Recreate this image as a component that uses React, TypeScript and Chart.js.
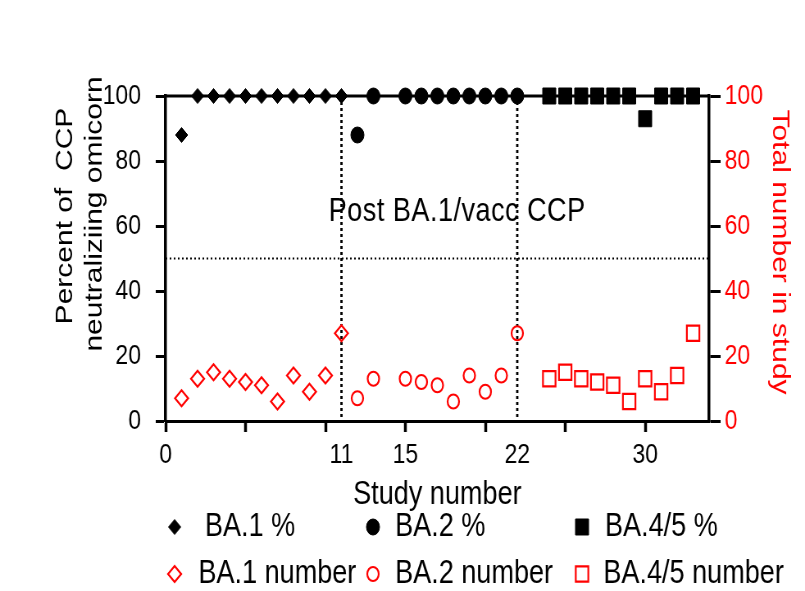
import React, { useEffect, useRef } from 'react';
import { Chart, registerables } from 'chart.js';
import { drawPoint } from 'chart.js/helpers';

Chart.register(...registerables);

// ---- data ----
const ba1Study = [1, 2, 3, 4, 5, 6, 7, 8, 9, 10, 11];
const ba1Percent = [88, 100, 100, 100, 100, 100, 100, 100, 100, 100, 100];
const ba1Number = [7, 13, 15, 13, 12, 11, 6, 14, 9, 14, 27];

const ba2Study = [12, 13, 15, 16, 17, 18, 19, 20, 21, 22];
const ba2Percent = [88, 100, 100, 100, 100, 100, 100, 100, 100, 100];
const ba2Number = [7, 13, 13, 12, 11, 6, 14, 9, 14, 27];

const ba45Study = [24, 25, 26, 27, 28, 29, 30, 31, 32, 33];
const ba45Percent = [100, 100, 100, 100, 100, 100, 93, 100, 100, 100];
const ba45Number = [13, 15, 13, 12, 11, 6, 13, 9, 14, 27];

const xTickValues = [0, 5, 10, 11, 15, 20, 22, 25, 30];
const xTickLabels = [0, 11, 15, 22, 30];
const dividerStudies = [11, 22];
const thresholdPercent = 50;
const yLabelStep = 20;

// ---- layout ----
const VIEW_W = 805;
const VIEW_H = 591;
const CANVAS_W = 982;
const SQUEEZE = VIEW_W / CANVAS_W;
const FONT = '"Liberation Sans", Arial, Helvetica, sans-serif';
const RED = '#ff0000';

const toPts = (xs: number[], ys: number[]) => xs.map((x, i) => ({ x, y: ys[i] }));

const guidesPlugin = {
  id: 'guides',
  beforeDatasetsDraw(chart: any) {
    const { ctx, scales } = chart;
    const x = scales.x;
    const y = scales.y;
    const left = x.left;
    const right = x.right;
    const top = y.getPixelForValue(100);
    const bottom = y.getPixelForValue(0);
    ctx.save();
    ctx.strokeStyle = '#000';
    ctx.lineWidth = 2;
    ctx.setLineDash([2, 3]);
    const yy = y.getPixelForValue(thresholdPercent);
    ctx.beginPath();
    ctx.moveTo(left, yy);
    ctx.lineTo(right, yy);
    ctx.stroke();
    ctx.lineWidth = 2.8;
    ctx.setLineDash([3, 3]);
    for (const v of dividerStudies) {
      const xx = x.getPixelForValue(v);
      ctx.beginPath();
      ctx.moveTo(xx, top);
      ctx.lineTo(xx, bottom);
      ctx.stroke();
    }
    ctx.setLineDash([]);
    ctx.lineWidth = 3;
    ctx.beginPath();
    ctx.moveTo(left, top);
    ctx.lineTo(right, top);
    ctx.stroke();

    ctx.fillStyle = '#000';
    ctx.font = `33px ${FONT}`;
    try { (ctx as any).letterSpacing = '0.6px'; } catch (e) { /* ignore */ }
    ctx.textAlign = 'left';
    ctx.textBaseline = 'middle';
    ctx.fillText('Post BA.1/vacc CCP', 401, 212);
    ctx.restore();
  },
};

const titlesPlugin = {
  id: 'titles',
  afterDraw(chart: any) {
    const { ctx } = chart;
    ctx.save();
    ctx.font = `30px ${FONT}`;
    ctx.textAlign = 'center';
    ctx.textBaseline = 'alphabetic';
    ctx.fillStyle = '#000';
    ctx.save();
    ctx.translate(88, 216);
    ctx.rotate(-Math.PI / 2);
    ctx.fillText('Percent of  CCP', 0, 0);
    ctx.restore();
    ctx.save();
    ctx.translate(124, 214);
    ctx.rotate(-Math.PI / 2);
    ctx.fillText('neutraliziing omicorn', 0, 0);
    ctx.restore();
    ctx.save();
    ctx.fillStyle = RED;
    ctx.translate(943, 252);
    ctx.rotate(Math.PI / 2);
    ctx.fillText('Total number in study', 0, 0);
    ctx.restore();
    ctx.restore();
  },
};

const legendLayout = [
  { ds: 0, row: 0, mx: 213, tx: 250 },
  { ds: 1, row: 0, mx: 455, tx: 482 },
  { ds: 2, row: 0, mx: 710, tx: 738 },
  { ds: 3, row: 1, mx: 213, tx: 242 },
  { ds: 4, row: 1, mx: 455, tx: 482 },
  { ds: 5, row: 1, mx: 710, tx: 736 },
];
const legendRowY = [527, 574];

const legendPlugin = {
  id: 'customLegend',
  afterDraw(chart: any) {
    const { ctx } = chart;
    ctx.save();
    ctx.font = `33px ${FONT}`;
    ctx.textAlign = 'left';
    ctx.textBaseline = 'middle';
    for (const item of legendLayout) {
      const ds = chart.data.datasets[item.ds];
      const y = legendRowY[item.row];
      ctx.save();
      ctx.fillStyle = ds.pointBackgroundColor;
      ctx.strokeStyle = ds.pointBorderColor;
      ctx.lineWidth = ds.pointBorderWidth;
      drawPoint(ctx, {
        pointStyle: ds.pointStyle,
        rotation: 0,
        radius: ds.pointRadius,
        borderWidth: ds.pointBorderWidth,
      } as any, item.mx, y);
      ctx.restore();
      ctx.fillStyle = '#000';
      ctx.fillText(ds.label, item.tx, y);
    }
    ctx.restore();
  },
};

export default function App() {
  const canvasRef = useRef<HTMLCanvasElement | null>(null);

  useEffect(() => {
    document.body.style.margin = '0';
    document.body.style.overflow = 'hidden';
    const canvas = canvasRef.current;
    if (!canvas) return;

    const filled = (label: string, xs: number[], ys: number[], style: string, r: number) => ({
      label,
      data: toPts(xs, ys),
      yAxisID: 'y',
      showLine: false,
      pointStyle: style,
      pointRadius: r,
      pointHoverRadius: r,
      pointBackgroundColor: '#000',
      pointBorderColor: '#000',
      pointBorderWidth: 1,
      clip: false,
    });
    const open = (label: string, xs: number[], ys: number[], style: string, r: number) => ({
      label,
      data: toPts(xs, ys),
      yAxisID: 'y1',
      showLine: false,
      pointStyle: style,
      pointRadius: r,
      pointHoverRadius: r,
      pointBackgroundColor: 'rgba(255,255,255,0)',
      pointBorderColor: RED,
      pointBorderWidth: 2.2,
      clip: false,
    });

    const chart = new Chart(canvas, {
      type: 'scatter',
      data: {
        datasets: [
          filled('BA.1 %', ba1Study, ba1Percent, 'rectRot', 7.5),
          filled('BA.2 %', ba2Study, ba2Percent, 'circle', 8),
          filled('BA.4/5 %', ba45Study, ba45Percent, 'rect', 11.3),
          open('BA.1 number', ba1Study, ba1Number, 'rectRot', 8),
          open('BA.2 number', ba2Study, ba2Number, 'circle', 7),
          open('BA.4/5 number', ba45Study, ba45Number, 'rect', 10.8),
        ] as any,
      },
      options: {
        animation: false,
        responsive: false,
        devicePixelRatio: 1,
        layout: { padding: { top: 96, left: 0, right: 0, bottom: 0 } },
        plugins: {
          legend: { display: false },
          tooltip: { enabled: false },
        },
        scales: {
          x: {
            type: 'linear',
            min: 0,
            max: 34,
            afterBuildTicks: (s: any) => {
              s.ticks = xTickValues.map((v) => ({ value: v }));
            },
            afterFit: (s: any) => {
              s.height = VIEW_H - 421;
            },
            ticks: {
              autoSkip: false,
              maxRotation: 0,
              padding: 6,
              color: '#000',
              font: { family: FONT, size: 28 },
              callback: (v: any) => (xTickLabels.includes(Number(v)) ? String(v) : ''),
            },
            grid: {
              drawOnChartArea: false,
              drawTicks: true,
              tickLength: 11,
              tickWidth: 3.5,
              tickColor: (c: any) =>
                c.tick && dividerStudies.includes(c.tick.value) ? 'rgba(0,0,0,0)' : '#000',
            },
            border: { display: true, color: '#000', width: 3 },
            title: {
              display: true,
              text: 'Study number',
              color: '#000',
              font: { family: FONT, size: 33, lineHeight: 1.2 },
              padding: { top: 0, bottom: 76 },
            },
          },
          y: {
            type: 'linear',
            position: 'left',
            min: 0,
            max: 100,
            afterFit: (s: any) => {
              s.width = 202;
            },
            ticks: {
              stepSize: 10,
              padding: 18,
              color: '#000',
              font: { family: FONT, size: 28 },
              callback: (v: any) => (Number(v) % yLabelStep === 0 ? String(v) : ''),
            },
            grid: {
              drawOnChartArea: false,
              drawTicks: true,
              tickLength: 12,
              tickWidth: 3,
              tickColor: '#000',
            },
            border: { display: true, color: '#000', width: 3.5 },
          },
          y1: {
            type: 'linear',
            position: 'right',
            min: 0,
            max: 100,
            afterFit: (s: any) => {
              s.width = CANVAS_W - 865;
            },
            ticks: {
              stepSize: 10,
              padding: 5,
              color: RED,
              font: { family: FONT, size: 28 },
              callback: (v: any) => (Number(v) % yLabelStep === 0 ? String(v) : ''),
            },
            grid: {
              drawOnChartArea: false,
              drawTicks: true,
              tickLength: 14,
              tickWidth: 3,
              tickColor: '#000',
            },
            border: { display: true, color: '#000', width: 3.5 },
          },
        },
      } as any,
      plugins: [guidesPlugin, titlesPlugin, legendPlugin],
    });

    return () => {
      chart.destroy();
    };
  }, []);

  return (
    <div style={{ width: VIEW_W, height: VIEW_H, overflow: 'hidden', position: 'relative', background: '#fff' }}>
      <div
        style={{
          width: CANVAS_W,
          height: VIEW_H,
          transform: `scaleX(${SQUEEZE})`,
          transformOrigin: '0 0',
        }}
      >
        <canvas ref={canvasRef} width={CANVAS_W} height={VIEW_H} style={{ display: 'block' }} />
      </div>
    </div>
  );
}
